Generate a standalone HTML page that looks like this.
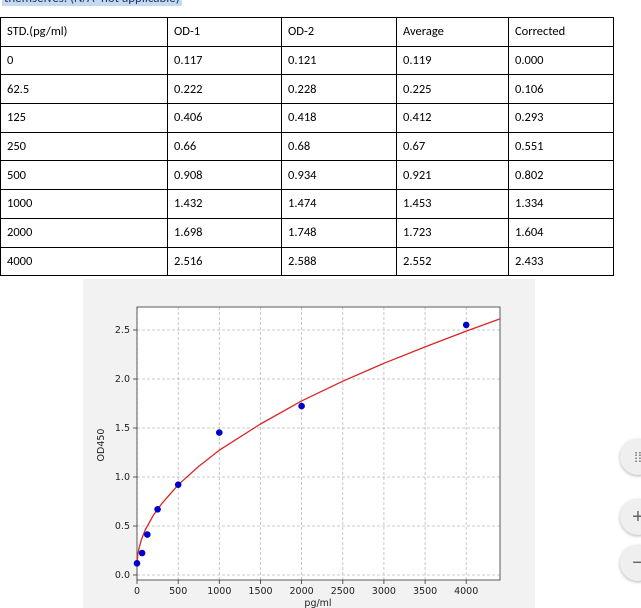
<!DOCTYPE html>
<html><head><style>
body{margin:0;width:641px;height:608px;overflow:hidden;background:#fff;position:relative;font-family:"Liberation Sans",sans-serif}
.top{position:absolute;left:2px;top:-9px;font-size:13px;color:#1f3864;background:#c5d9f1;padding:0 2px;font-family:Carlito,Calibri,"Liberation Sans",sans-serif}
table{position:absolute;left:0;top:17px;border-collapse:collapse;font-size:12.5px;font-family:Carlito,"Liberation Sans",sans-serif}
td{border:1px solid #000;height:28.7px;padding:0 0 0 6px;vertical-align:middle;box-sizing:border-box}
.btn{position:absolute;width:36px;height:36px;border-radius:50%;background:#efefef;box-shadow:0 1px 3px rgba(0,0,0,.3);color:#666;font-size:20px;text-align:center;line-height:36px}
</style></head><body>
<div class="top">themselves. (N/A=not applicable)</div>
<table>
<colgroup><col style="width:167px"><col style="width:114px"><col style="width:115px"><col style="width:112px"><col style="width:105px"></colgroup>
<tr><td>STD.(pg/ml)</td><td>OD-1</td><td>OD-2</td><td>Average</td><td>Corrected</td></tr>
<tr><td>0</td><td>0.117</td><td>0.121</td><td>0.119</td><td>0.000</td></tr>
<tr><td>62.5</td><td>0.222</td><td>0.228</td><td>0.225</td><td>0.106</td></tr>
<tr><td>125</td><td>0.406</td><td>0.418</td><td>0.412</td><td>0.293</td></tr>
<tr><td>250</td><td>0.66</td><td>0.68</td><td>0.67</td><td>0.551</td></tr>
<tr><td>500</td><td>0.908</td><td>0.934</td><td>0.921</td><td>0.802</td></tr>
<tr><td>1000</td><td>1.432</td><td>1.474</td><td>1.453</td><td>1.334</td></tr>
<tr><td>2000</td><td>1.698</td><td>1.748</td><td>1.723</td><td>1.604</td></tr>
<tr><td>4000</td><td>2.516</td><td>2.588</td><td>2.552</td><td>2.433</td></tr>
</table>
<svg style="position:absolute;left:0;top:0" width="641" height="608" font-family="DejaVu Sans,sans-serif" font-size="9.5" fill="#222">
<rect x="83" y="279" width="452" height="329" fill="#f2f2f2"/>
<rect x="137" y="307" width="363" height="273" fill="#fff"/>
<g stroke="#bbb" stroke-width="0.8" stroke-dasharray="3,2">
<line x1="137" y1="307" x2="137" y2="580"/><line x1="178.2" y1="307" x2="178.2" y2="580"/><line x1="219.3" y1="307" x2="219.3" y2="580"/><line x1="260.5" y1="307" x2="260.5" y2="580"/><line x1="301.6" y1="307" x2="301.6" y2="580"/><line x1="342.8" y1="307" x2="342.8" y2="580"/><line x1="383.9" y1="307" x2="383.9" y2="580"/><line x1="425.1" y1="307" x2="425.1" y2="580"/><line x1="466.2" y1="307" x2="466.2" y2="580"/>
<line x1="137" y1="575" x2="500" y2="575"/><line x1="137" y1="526" x2="500" y2="526"/><line x1="137" y1="477" x2="500" y2="477"/><line x1="137" y1="428" x2="500" y2="428"/><line x1="137" y1="379" x2="500" y2="379"/><line x1="137" y1="330" x2="500" y2="330"/>
</g>
<rect x="137" y="307" width="363" height="273" fill="none" stroke="#333" stroke-width="0.8"/>
<g stroke="#333" stroke-width="0.8">
<line x1="133" y1="575" x2="137" y2="575"/><line x1="133" y1="526" x2="137" y2="526"/><line x1="133" y1="477" x2="137" y2="477"/><line x1="133" y1="428" x2="137" y2="428"/><line x1="133" y1="379" x2="137" y2="379"/><line x1="133" y1="330" x2="137" y2="330"/>
<line x1="137" y1="580" x2="137" y2="584"/><line x1="178.2" y1="580" x2="178.2" y2="584"/><line x1="219.3" y1="580" x2="219.3" y2="584"/><line x1="260.5" y1="580" x2="260.5" y2="584"/><line x1="301.6" y1="580" x2="301.6" y2="584"/><line x1="342.8" y1="580" x2="342.8" y2="584"/><line x1="383.9" y1="580" x2="383.9" y2="584"/><line x1="425.1" y1="580" x2="425.1" y2="584"/><line x1="466.2" y1="580" x2="466.2" y2="584"/>
</g>
<g text-anchor="end">
<text x="130" y="578">0.0</text><text x="130" y="529">0.5</text><text x="130" y="480">1.0</text><text x="130" y="431">1.5</text><text x="130" y="382">2.0</text><text x="130" y="333">2.5</text>
</g>
<g text-anchor="middle">
<text x="137" y="594">0</text><text x="178.2" y="594">500</text><text x="219.3" y="594">1000</text><text x="260.5" y="594">1500</text><text x="301.6" y="594">2000</text><text x="342.8" y="594">2500</text><text x="383.9" y="594">3000</text><text x="425.1" y="594">3500</text><text x="466.2" y="594">4000</text>
<text x="318" y="606">pg/ml</text>
<text transform="translate(104,445) rotate(-90)">OD450</text>
</g>
<path d="M137,565.2 L137.8,554.4 L139.1,548 L141.1,540.5 L145.2,530 L153.5,515.1 L161.7,503.7 L178.2,484.8 L198.7,466.4 L219.3,450.2 L260.5,424 L301.6,400.9 L342.8,381.2 L383.9,363.3 L425.1,346.9 L466.2,331.1 L500,318.9" fill="none" stroke="#d62728" stroke-width="1.3" stroke-linejoin="round"/>
<g fill="#0000cc">
<circle cx="137" cy="563.3" r="3.3"/><circle cx="142.1" cy="553" r="3.3"/><circle cx="147.3" cy="534.6" r="3.3"/><circle cx="157.6" cy="509.3" r="3.3"/><circle cx="178.2" cy="484.7" r="3.3"/><circle cx="219.3" cy="432.6" r="3.3"/><circle cx="301.6" cy="406.1" r="3.3"/><circle cx="466.2" cy="324.9" r="3.3"/>
</g>
</svg>
<div class="btn" style="left:620px;top:439px;font-size:14px">⁞⁞</div>
<div class="btn" style="left:620px;top:499px">+</div>
<div class="btn" style="left:620px;top:545px">−</div>
</body></html>
